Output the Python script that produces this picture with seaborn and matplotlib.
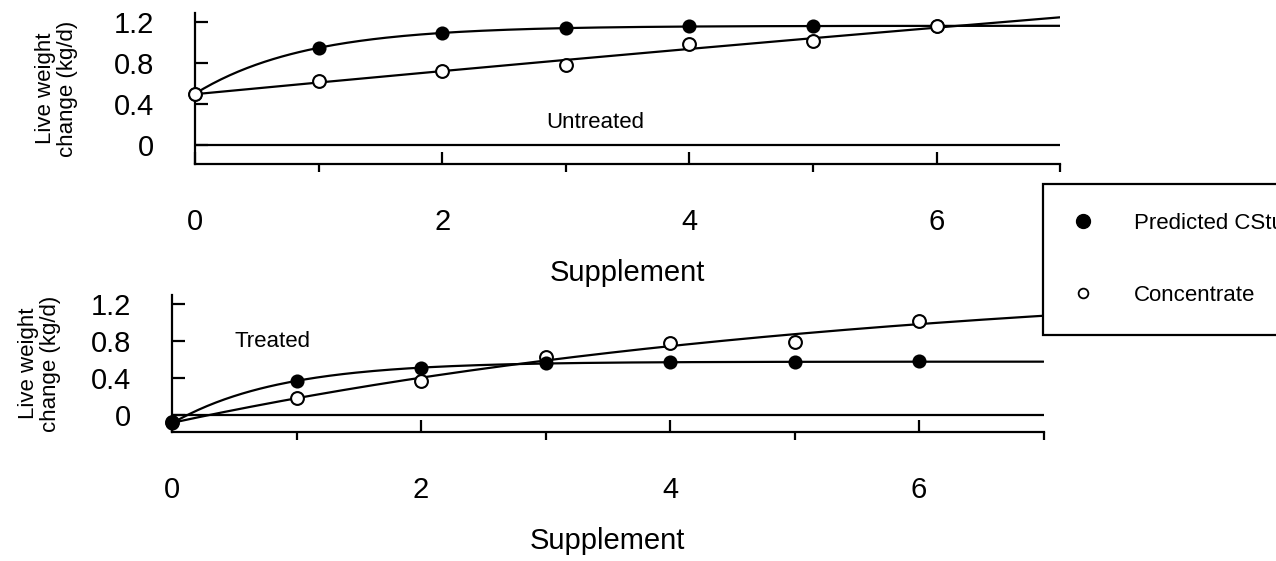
import numpy as np
import matplotlib
matplotlib.use('Agg')
import matplotlib.pyplot as plt
from matplotlib.lines import Line2D
from matplotlib.ticker import MultipleLocator
import seaborn as sns

# Valeurs
supplement = [0, 1, 2, 3, 4, 5, 6]
untreated_pred = [0.50, 0.95, 1.09, 1.14, 1.16, 1.16, 1.16]
untreated_conc = [0.50, 0.62, 0.72, 0.78, 0.99, 1.01, 1.16]
treated_pred = [-0.09, 0.37, 0.51, 0.56, 0.57, 0.57, 0.58]
treated_conc = [-0.08, 0.18, 0.37, 0.63, 0.78, 0.79, 1.02]

series_names = ['Predicted CStuff', 'Concentrate']
panel_names = ['Untreated', 'Treated']
x_ticks = [0, 2, 4, 6]
y_ticks = [0, 0.4, 0.8, 1.2]
y_tick_labels = ['0', '0.4', '0.8', '1.2']


def fit_curve(x, y, x_max=7):
    # courbe y = a - b*exp(-c*x) ajustée sur les points (c sur une grille)
    x = np.asarray(x, float)
    y = np.asarray(y, float)
    best = None
    for c in np.linspace(0.02, 3, 300):
        A = np.column_stack([np.ones_like(x), -np.exp(-c * x)])
        coef = np.linalg.lstsq(A, y, rcond=None)[0]
        err = np.sum((A @ coef - y) ** 2)
        if best is None or err < best[0]:
            best = (err, c, coef)
    _, c, (a, b) = best
    xs = np.linspace(0, x_max, 200)
    return xs, a - b * np.exp(-c * xs)


sns.set_style('ticks')
plt.rcParams['font.family'] = ['Liberation Sans', 'DejaVu Sans']
plt.rcParams['text.color'] = 'black'
plt.rcParams['axes.labelcolor'] = 'black'
plt.rcParams['xtick.color'] = 'black'
plt.rcParams['ytick.color'] = 'black'

fig = plt.figure(figsize=(12.76, 5.61), dpi=100)
ax1 = fig.add_axes([0.1528, 0.7077, 0.678, 0.2692])
ax2 = fig.add_axes([0.1348, 0.2299, 0.683, 0.2442])

panels = [
    (ax1, untreated_pred, untreated_conc, (-0.185, 1.288), -0.135, True),
    (ax2, treated_pred, treated_conc, (-0.184, 1.297), -0.127, False),
]

lw = 1.6
for ax, pred, conc, ylim, ylab_x, open_on_top in panels:
    ax.axhline(0, color='black', lw=lw, zorder=1)
    for vals in (pred, conc):
        xs, ys = fit_curve(supplement, vals)
        sns.lineplot(x=xs, y=ys, ax=ax, color='black', lw=lw, zorder=2)
    z_pred, z_conc = (3, 4) if open_on_top else (4, 3)
    sns.scatterplot(x=supplement, y=pred, ax=ax, color='black', edgecolor='black',
                    s=80, linewidth=1.2, zorder=z_pred, clip_on=False, legend=False)
    sns.scatterplot(x=supplement, y=conc, ax=ax, color='white', edgecolor='black',
                    s=85, linewidth=1.5, zorder=z_conc, clip_on=False, legend=False)

    ax.set_xlim(0, 7)
    ax.set_ylim(*ylim)
    ax.set_xticks(x_ticks)
    ax.xaxis.set_minor_locator(MultipleLocator(1))
    ax.set_yticks(y_ticks, y_tick_labels)
    ax.tick_params(direction='in', width=lw, color='black', labelcolor='black', labelsize=21)
    ax.tick_params(axis='x', which='major', length=8.6, pad=32)
    ax.tick_params(axis='x', which='minor', length=5.8, width=lw)
    ax.tick_params(axis='y', length=9.4, pad=29.5)
    sns.despine(ax=ax)
    for side in ['left', 'bottom']:
        ax.spines[side].set_linewidth(lw)
        ax.spines[side].set_color('black')
    ax.set_xlabel('Supplement', fontsize=21, labelpad=16, color='black')
    ax.set_ylabel('Live weight\nchange (kg/d)', fontsize=16, linespacing=1.1, color='black')
    ax.yaxis.set_label_coords(ylab_x, 0.5)

ax1.text(2.84, 0.22, panel_names[0], fontsize=16, va='center', color='black')
ax2.text(0.5, 0.80, panel_names[1], fontsize=16, va='center', color='black')

handles = [
    Line2D([], [], ls='none', marker='o', markersize=10, markerfacecolor='black', markeredgecolor='black'),
    Line2D([], [], ls='none', marker='o', markersize=7, markerfacecolor='white',
           markeredgecolor='black', markeredgewidth=1.3),
]
leg = fig.legend(handles, series_names, loc='upper left',
                 bbox_to_anchor=(1043 / 1276, 1 - 184 / 561), borderaxespad=0,
                 fontsize=16, frameon=True, fancybox=False, framealpha=1,
                 borderpad=1.3, labelspacing=2.3, handlelength=1.0, handletextpad=1.8)
leg.get_frame().set_edgecolor('black')
leg.get_frame().set_linewidth(lw)
for t in leg.get_texts():
    t.set_color('black')

fig.savefig('out.png', dpi=100)
